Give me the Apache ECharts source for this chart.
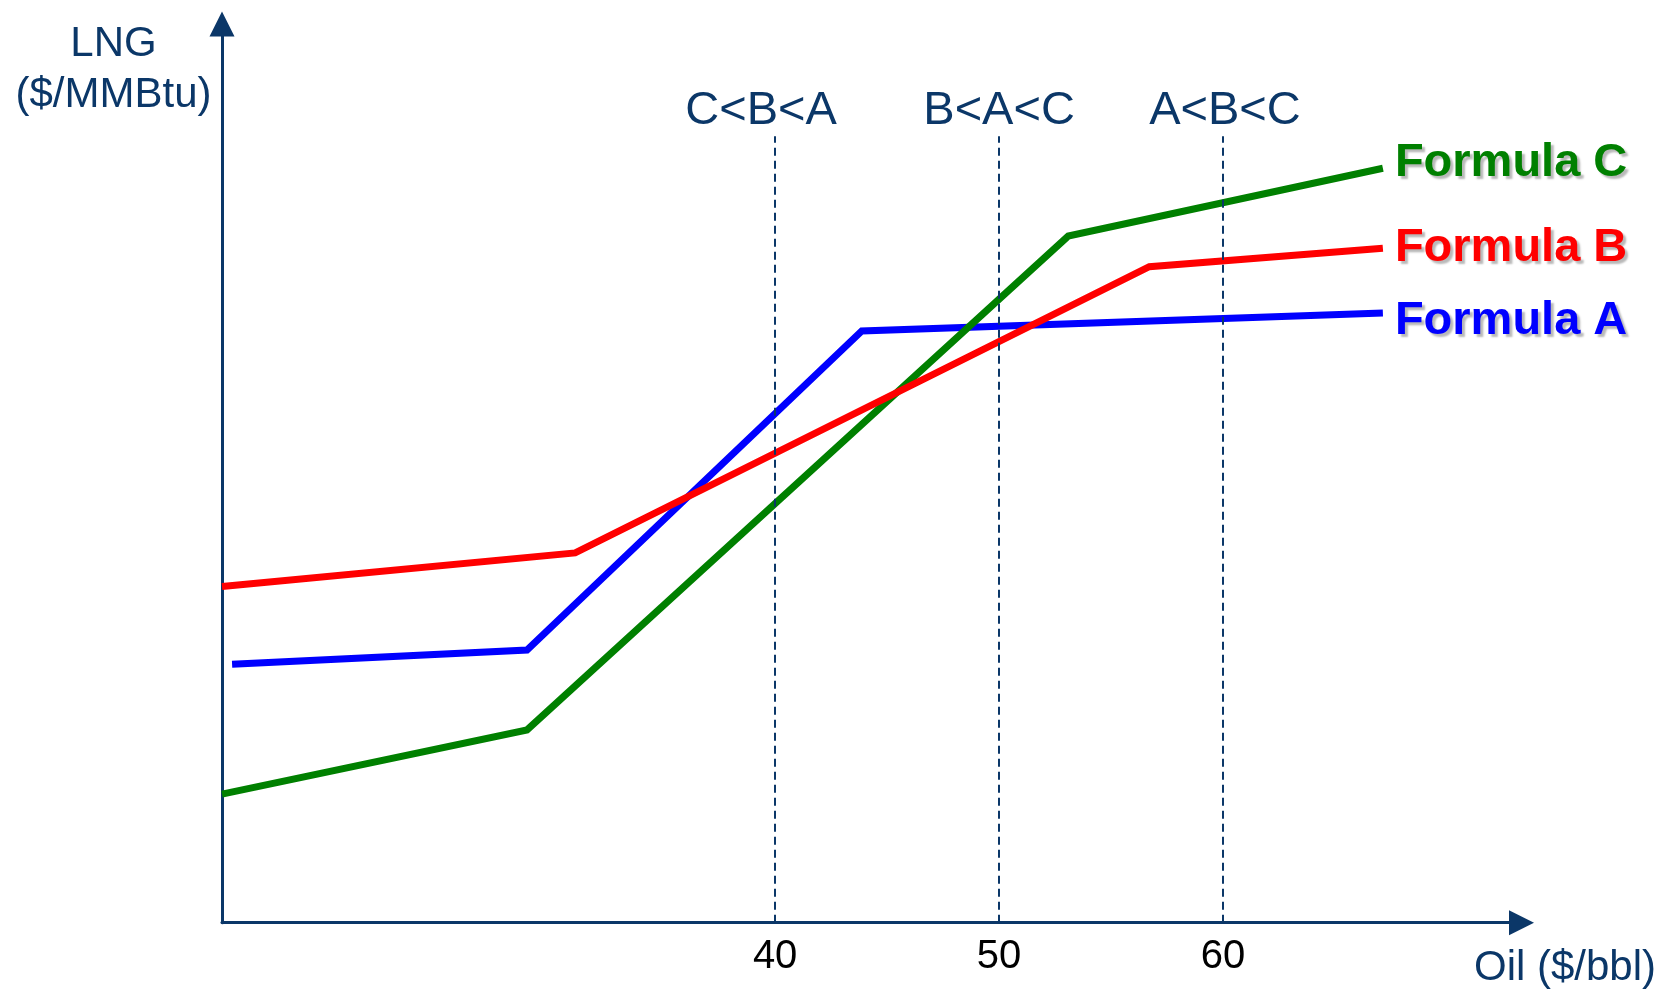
<!DOCTYPE html>
<html>
<head>
<meta charset="utf-8">
<title>LNG pricing formulas vs oil price</title>
<script src="https://cdn.jsdelivr.net/npm/echarts@6/dist/echarts.min.js"></script>
<style>
  html, body { margin: 0; padding: 0; background: #ffffff; }
  #chart { width: 1659px; height: 992px; }
</style>
</head>
<body>
<div id="chart"></div>
<script>
// Oil price ($/bbl) at each kink of the three pricing formulas
const formulaA_oil = [15.75, 28.92, 43.87, 67.14];
const formulaA_lng = [5.75, 6.07, 13.17, 13.57];

const formulaB_oil = [15.30, 31.07, 56.71, 67.14];
const formulaB_lng = [7.48, 8.23, 14.60, 15.01];

const formulaC_oil = [15.30, 28.92, 53.09, 67.14];
const formulaC_lng = [2.86, 4.29, 15.28, 16.79];

const seriesNames = ['Formula A', 'Formula C', 'Formula B'];

// Reference oil prices with the resulting ranking of the formulas
const guideOil = [40, 50, 60];
const guideRanking = ['C<B<A', 'B<A<C', 'A<B<C'];
const guideTop = 17.5;

const xTickValues = [40, 50, 60];
const xRange = [15.3, 73.33];
const yRange = [0, 20];

const NAVY = '#0b3768';
const FONT = '"Liberation Sans", Arial, sans-serif';

function pairs(xs, ys) { return xs.map((x, i) => [x, ys[i]]); }

const chart = echarts.init(document.getElementById('chart'), null, { renderer: 'canvas' });

function lineSeries(name, xs, ys, color, labelDy) {
  return {
    name: name,
    type: 'line',
    data: pairs(xs, ys),
    showSymbol: false,
    symbol: 'none',
    lineStyle: { color: color, width: 7, cap: 'butt', join: 'miter' },
    itemStyle: { color: color },
    endLabel: {
      show: true,
      formatter: '{a}',
      distance: 12,
      offset: [0, labelDy],
      color: color,
      fontFamily: FONT,
      fontWeight: 'bold',
      fontSize: 47,
      textShadowColor: 'rgba(0,0,0,0.28)',
      textShadowBlur: 2,
      textShadowOffsetX: 3,
      textShadowOffsetY: 3
    },
    emphasis: { disabled: true },
    z: 3
  };
}

// Ranking labels sit centred over their guide line; the first one leans left a little
const guideLabelShift = [-14, 0, 2];

const guideLines = guideOil.map((x, i) => [
  { coord: [x, yRange[0]], name: guideRanking[i], label: { offset: [guideLabelShift[i], 0] } },
  { coord: [x, guideTop] }
]);

const option = {
  animation: false,
  backgroundColor: '#ffffff',
  grid: {
    left: 222, right: 137.5, top: 24, bottom: 69.3,
    containLabel: false,
    outerBoundsMode: 'none'
  },
  xAxis: {
    type: 'value',
    min: xRange[0],
    max: xRange[1],
    name: 'Oil ($/bbl)',
    nameLocation: 'end',
    nameGap: -47.5,
    nameTextStyle: {
      color: NAVY, fontFamily: FONT, fontSize: 42,
      align: 'left', verticalAlign: 'top',
      lineHeight: 92
    },
    axisLine: {
      show: true,
      onZero: false,
      symbol: ['none', 'triangle'],
      symbolSize: [25, 25],
      lineStyle: { color: NAVY, width: 3 }
    },
    axisTick: { show: false },
    splitLine: { show: false },
    axisLabel: {
      show: true,
      customValues: xTickValues,
      margin: 14,
      color: '#000000',
      fontFamily: FONT,
      fontSize: 40
    }
  },
  yAxis: {
    type: 'value',
    min: yRange[0],
    max: yRange[1],
    name: 'LNG\n($/MMBtu)',
    nameLocation: 'end',
    nameGap: -97,
    nameTextStyle: {
      color: NAVY, fontFamily: FONT, fontSize: 42, lineHeight: 51,
      align: 'center', verticalAlign: 'bottom',
      padding: [0, 217, 0, 0]
    },
    axisLine: {
      show: true,
      onZero: false,
      symbol: ['none', 'triangle'],
      symbolSize: [25, 25],
      lineStyle: { color: NAVY, width: 3 }
    },
    axisTick: { show: false },
    splitLine: { show: false },
    axisLabel: { show: false }
  },
  series: [
    Object.assign(lineSeries(seriesNames[0], formulaA_oil, formulaA_lng, '#0000ff', 8), {
      markLine: {
        silent: true,
        symbol: ['none', 'none'],
        lineStyle: { color: NAVY, width: 2, type: [8, 5] },
        label: {
          show: true,
          position: 'end',
          formatter: '{b}',
          color: NAVY,
          fontFamily: FONT,
          fontSize: 47,
          distance: 2
        },
        emphasis: { disabled: true },
        data: guideLines
      }
    }),
    lineSeries(seriesNames[1], formulaC_oil, formulaC_lng, '#008000', -5),
    lineSeries(seriesNames[2], formulaB_oil, formulaB_lng, '#ff0000', 0)
  ]
};

chart.setOption(option);
</script>
</body>
</html>
